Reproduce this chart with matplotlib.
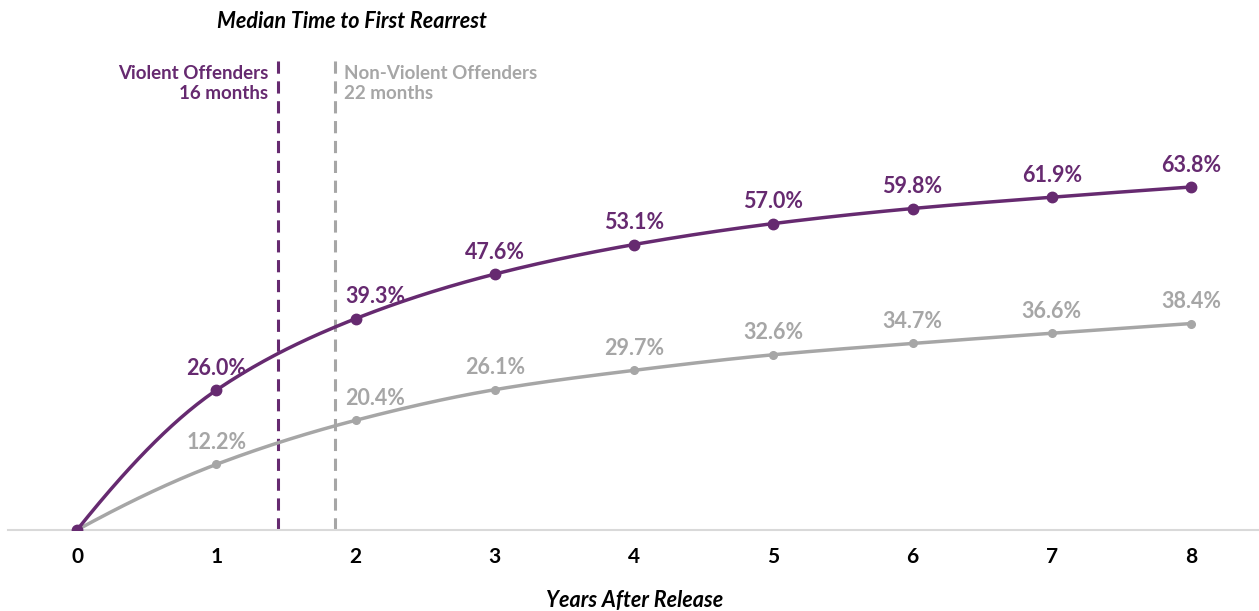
import numpy as np
import matplotlib
matplotlib.use('Agg')
import matplotlib.pyplot as plt

years = [0, 1, 2, 3, 4, 5, 6, 7, 8]
violent = [0.0, 26.0, 39.3, 47.6, 53.1, 57.0, 59.8, 61.9, 63.8]
non_violent = [0.0, 12.2, 20.4, 26.1, 29.7, 32.6, 34.7, 36.6, 38.4]
median_x = [1.44, 1.85]  # where the median markers sit on the year axis
median_labels = ['Violent Offenders\n16 months', 'Non-Violent Offenders\n22 months']

purple = '#662a70'
gray = '#a6a6a6'
plt.rcParams['font.family'] = ['Lato', 'DejaVu Sans']


def smooth(x, y, n=400):
    # monotone cubic just for drawing a smooth line
    x = np.asarray(x, float)
    y = np.asarray(y, float)
    h = np.diff(x)
    d = np.diff(y) / h
    m = np.zeros_like(y)
    for i in range(1, len(x) - 1):
        if d[i - 1] * d[i] > 0:
            m[i] = 2 / (1 / d[i - 1] + 1 / d[i])
    m[0] = ((2 * h[0] + h[1]) * d[0] - h[0] * d[1]) / (h[0] + h[1])
    m[-1] = ((2 * h[-1] + h[-2]) * d[-1] - h[-1] * d[-2]) / (h[-1] + h[-2])
    xs = np.linspace(x[0], x[-1], n)
    idx = np.clip(np.searchsorted(x, xs) - 1, 0, len(x) - 2)
    t = (xs - x[idx]) / h[idx]
    h00 = 2 * t**3 - 3 * t**2 + 1
    h10 = t**3 - 2 * t**2 + t
    h01 = -2 * t**3 + 3 * t**2
    h11 = t**3 - t**2
    ys = h00 * y[idx] + h10 * h[idx] * m[idx] + h01 * y[idx + 1] + h11 * h[idx] * m[idx + 1]
    return xs, ys


fig = plt.figure(figsize=(12.59, 6.11), dpi=100)
ax = fig.add_axes([8 / 1259, 81 / 611, 1251 / 1259, 490 / 611])
ax.set_xlim(-0.4955, 8.488)
ax.set_ylim(0, 490 / 5.376)

xs, ys = smooth(years, non_violent)
ax.plot(xs, ys, color=gray, lw=2.5, zorder=3)
ax.plot(years, non_violent, 'o', color=gray, ms=5.5, zorder=4)
xs, ys = smooth(years, violent)
ax.plot(xs, ys, color=purple, lw=2.5, zorder=5)
ax.plot(years, violent, 'o', color=purple, ms=7.5, zorder=6)

for series, col in [(violent, purple), (non_violent, gray)]:
    for x, v in zip(years[1:], series[1:]):
        dx = 20 if x == 2 else 0  # nudged clear of the dashed line
        ax.annotate(f'{v:.1f}%', (x, v), xytext=(dx, 22), textcoords='offset pixels',
                    ha='center', va='center', fontsize=15.5, fontweight='bold', color=col)

ax.vlines(median_x[0], 0, 88, colors=purple, linestyles=(0, (4, 2.5)), lw=2.2, zorder=2)
ax.vlines(median_x[1], 0, 88, colors=gray, linestyles=(0, (4, 2.5)), lw=2.2, zorder=2)
ax.text(median_x[0] - 0.065, 83, median_labels[0], ha='right', va='center', fontsize=13.5,
        fontweight='bold', color=purple, linespacing=1.2)
ax.text(median_x[1] + 0.065, 83, median_labels[1], ha='left', va='center', fontsize=13.5,
        fontweight='bold', color=gray, linespacing=1.2)

fig.text(352 / 1259, 1 - 22 / 611, 'Median Time to First Rearrest', ha='center', va='center',
         fontsize=15.5, fontweight='bold', fontstyle='italic')
fig.text(635 / 1259, 1 - 601 / 611, 'Years After Release', ha='center', va='center',
         fontsize=15.5, fontweight='bold', fontstyle='italic')

for s in ['top', 'right', 'left']:
    ax.spines[s].set_visible(False)
ax.spines['bottom'].set_color('#d9d9d9')
ax.spines['bottom'].set_linewidth(1.5)
ax.set_yticks([])
ax.set_xticks(years)
ax.tick_params(axis='x', length=0, pad=12, labelsize=15)
for lab in ax.get_xticklabels():
    lab.set_fontweight('bold')

fig.savefig('out.png', dpi=100)
